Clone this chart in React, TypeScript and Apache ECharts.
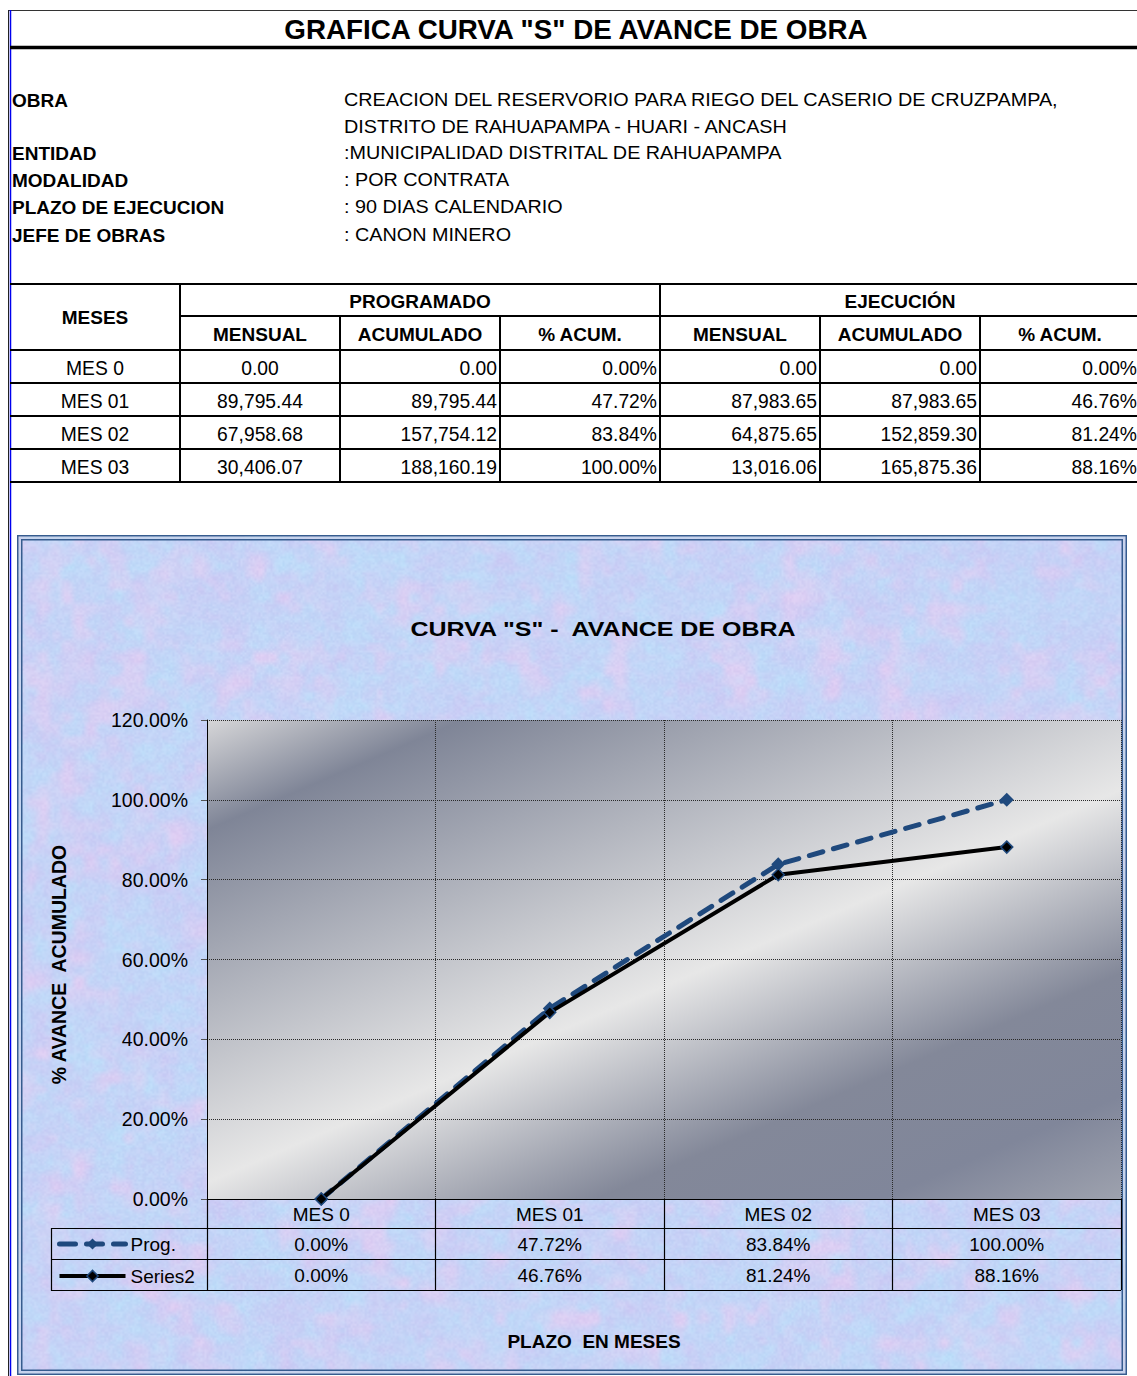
import React, { useEffect, useRef } from 'react';
import * as echarts from 'echarts';

// ---------- data ----------
const months = ['MES 0', 'MES 01', 'MES 02', 'MES 03'];
const progMensual = [0, 89795.44, 67958.68, 30406.07];
const progAcumulado = [0, 89795.44, 157754.12, 188160.19];
const progPct = [0, 47.72, 83.84, 100];
const ejecMensual = [0, 87983.65, 64875.65, 13016.06];
const ejecAcumulado = [0, 87983.65, 152859.3, 165875.36];
const ejecPct = [0, 46.76, 81.24, 88.16];
const seriesNames = ['Prog.', 'Series2'];
const yMin = 0;
const yMax = 120;
const yStep = 20;

const infoLabels = ['OBRA', '', 'ENTIDAD', 'MODALIDAD', 'PLAZO DE EJECUCION', 'JEFE DE OBRAS'];
const infoValues = [
  'CREACION DEL RESERVORIO PARA RIEGO DEL CASERIO DE CRUZPAMPA,',
  'DISTRITO DE RAHUAPAMPA - HUARI - ANCASH',
  ':MUNICIPALIDAD DISTRITAL DE RAHUAPAMPA',
  ': POR CONTRATA',
  ': 90 DIAS CALENDARIO',
  ': CANON MINERO',
];
const groupHeaders = ['PROGRAMADO', 'EJECUCIÓN'];
const subHeaders = ['MENSUAL', 'ACUMULADO', '% ACUM.', 'MENSUAL', 'ACUMULADO', '% ACUM.'];

const pageTitle = 'GRAFICA CURVA "S" DE AVANCE DE OBRA';
const chartTitle = 'CURVA "S" -  AVANCE DE OBRA';
const yName = '% AVANCE  ACUMULADO';
const xName = 'PLAZO  EN MESES';

// ---------- helpers ----------
const FONT = '"Liberation Sans", Arial, Helvetica, sans-serif';
const fmtNum = (v: number) => v.toLocaleString('en-US', { minimumFractionDigits: 2, maximumFractionDigits: 2 });
const fmtPct = (v: number) => v.toFixed(2) + '%';

const T = (x: number, y: number, text: string, size: number, bold: boolean, align = 'left', extra: any = {}) => ({
  type: 'text',
  x,
  y,
  z: 20,
  silent: true,
  ...extra,
  style: {
    text,
    fill: '#000',
    fontFamily: FONT,
    fontSize: size,
    fontWeight: bold ? 'bold' : 'normal',
    textAlign: align,
    textVerticalAlign: 'middle',
  },
});
const L = (x1: number, y1: number, x2: number, y2: number, w = 2, c = '#000', z = 20) => ({
  type: 'line',
  z,
  silent: true,
  shape: { x1, y1, x2, y2 },
  style: { stroke: c, lineWidth: w },
});

function makeTexture(w: number, h: number): string {
  const c = document.createElement('canvas');
  c.width = w;
  c.height = h;
  const ctx = c.getContext('2d');
  if (!ctx) return '';
  const img = ctx.createImageData(w, h);
  const hash = (x: number, y: number, s: number) => {
    const v = Math.sin(x * 127.1 + y * 311.7 + s * 74.7) * 43758.5453;
    return v - Math.floor(v);
  };
  const noise = (x: number, y: number, s: number) => {
    const ix = Math.floor(x), iy = Math.floor(y);
    const fx = x - ix, fy = y - iy;
    const ux = fx * fx * (3 - 2 * fx), uy = fy * fy * (3 - 2 * fy);
    const a = hash(ix, iy, s), b = hash(ix + 1, iy, s), cc = hash(ix, iy + 1, s), d = hash(ix + 1, iy + 1, s);
    return a + (b - a) * ux + (cc - a) * uy + (a - b - cc + d) * ux * uy;
  };
  for (let y = 0; y < h; y++) {
    for (let x = 0; x < w; x++) {
      const n1 = 0.45 * noise(x / 12, y / 12, 1) + 0.35 * noise(x / 5, y / 5, 2) + 0.2 * noise(x / 2, y / 2, 3);
      const n2 = 0.55 * noise(x / 15, y / 15, 7) + 0.45 * noise(x / 6, y / 6, 8);
      const gr = (hash(x, y, 11) - 0.5) * 10;
      let r = 186 + (206 - 186) * n1;
      let g = 224 + (200 - 224) * n1;
      let b = 250 + (244 - 250) * n1;
      const p = Math.max(0, Math.min(1, (n2 - 0.5) * 2.6)) * 0.72;
      r += (230 - r) * p;
      g += (204 - g) * p;
      b += (242 - b) * p;
      const i = (y * w + x) * 4;
      img.data[i] = Math.max(0, Math.min(255, r + gr));
      img.data[i + 1] = Math.max(0, Math.min(255, g + gr));
      img.data[i + 2] = Math.max(0, Math.min(255, b + gr * 0.5));
      img.data[i + 3] = 255;
    }
  }
  ctx.putImageData(img, 0, 0);
  return c.toDataURL('image/png');
}

function buildOption() {
  const els: any[] = [];

  // page frame
  els.push(L(8, 10.5, 1137, 10.5, 1, '#333'));
  els.push(L(8.5, 10, 8.5, 1376, 1, '#222'));
  els.push(L(10.5, 10, 10.5, 1376, 1.5, '#0000EE'));
  els.push(L(10, 47.5, 1137, 47.5, 3.5, '#000'));
  els.push(T(576, 29, pageTitle, 27.8, true, 'center'));

  // info block
  const infoY = [100, 127, 153, 180, 207, 235];
  infoLabels.forEach((s, i) => {
    if (s) els.push(T(12, infoY[i], s, 19, true));
  });
  infoValues.forEach((s, i) => els.push(T(344, infoY[i], s, 18.5, false, 'left', { scaleX: 1.07 })));

  // table
  const colX = [10, 180, 340, 500, 660, 820, 980, 1140];
  const top = 284, sub = 316, hb = 350, rowH = 33;
  const rowTops = months.map((_, i) => hb + i * rowH);
  const bottom = hb + months.length * rowH;
  els.push(L(10, top, 1137, top));
  els.push(L(180, sub, 1137, sub));
  els.push(L(10, hb, 1137, hb));
  rowTops.forEach((y) => els.push(L(10, y + rowH, 1137, y + rowH)));
  els.push(L(180, top, 180, bottom));
  els.push(L(660, top, 660, bottom));
  [340, 500, 820, 980].forEach((x) => els.push(L(x, sub, x, bottom)));

  els.push(T(95, (top + hb) / 2, 'MESES', 19, true, 'center'));
  els.push(T(420, (top + sub) / 2 + 1, groupHeaders[0], 19, true, 'center'));
  els.push(T(900, (top + sub) / 2 + 1, groupHeaders[1], 19, true, 'center'));
  subHeaders.forEach((s, i) => els.push(T((colX[i + 1] + colX[i + 2]) / 2, (sub + hb) / 2 + 1, s, 19, true, 'center')));

  months.forEach((m, i) => {
    const cy = rowTops[i] + rowH / 2 + 1.5;
    els.push(T(95, cy, m, 19.3, false, 'center'));
    els.push(T(260, cy, fmtNum(progMensual[i]), 19.3, false, 'center'));
    const right = [fmtNum(progAcumulado[i]), fmtPct(progPct[i]), fmtNum(ejecMensual[i]), fmtNum(ejecAcumulado[i]), fmtPct(ejecPct[i])];
    right.forEach((s, j) => els.push(T(colX[j + 3] - 3, cy, s, 19.3, false, 'right')));
  });

  // chart panel
  const tex = makeTexture(553, 418);
  if (tex) {
    els.push({ type: 'image', z: -30, silent: true, style: { image: tex, x: 18, y: 536, width: 1108, height: 838 } });
  } else {
    els.push({ type: 'rect', z: -30, silent: true, shape: { x: 18, y: 536, width: 1108, height: 838 }, style: { fill: '#C4D2F4' } });
  }
  els.push({ type: 'rect', z: -20, silent: true, shape: { x: 17.75, y: 535.75, width: 1108.5, height: 838.5 }, style: { fill: 'none', stroke: '#365C8E', lineWidth: 1.5 } });
  els.push({ type: 'rect', z: -20, silent: true, shape: { x: 19.75, y: 537.75, width: 1104.5, height: 834.5 }, style: { fill: 'none', stroke: '#C6D4EA', lineWidth: 1.5 } });
  els.push({ type: 'rect', z: -20, silent: true, shape: { x: 21.75, y: 539.75, width: 1100.5, height: 830.5 }, style: { fill: 'none', stroke: '#365C8E', lineWidth: 1.5 } });

  els.push(T(603, 629, chartTitle, 21, true, 'center', { scaleX: 1.19 }));
  els.push(T(594, 1341, xName, 19, true, 'center'));

  // data table under the plot
  [1228.5, 1259.5, 1290.5].forEach((y) => els.push(L(51, y, 1121, y, 1.2, '#000')));
  els.push(L(51.5, 1228, 51.5, 1291, 1.2, '#000'));

  const plotGrad = new echarts.graphic.LinearGradient(
    207, 720, 523.8, 1457,
    [
      { offset: 0, color: '#D6D6D8' },
      { offset: 0.126, color: '#7F8597' },
      { offset: 0.53, color: '#E7E7E7' },
      { offset: 0.74, color: '#838899' },
      { offset: 0.88, color: '#80869A' },
      { offset: 1, color: '#9EA2AE' },
    ],
    true
  );

  const blue = '#1F497D';

  return {
    animation: false,
    textStyle: { fontFamily: FONT },
    graphic: { elements: els },
    grid: { left: 207, top: 720, width: 914, height: 479, show: true, borderWidth: 0, backgroundColor: plotGrad },
    legend: {
      orient: 'vertical',
      left: 57,
      top: 1234.5,
      padding: 0,
      itemWidth: 66,
      itemHeight: 14,
      itemGap: 13,
      selectedMode: false,
      textStyle: { fontSize: 19, color: '#000', fontFamily: FONT, lineHeight: 14 },
      data: [
        { name: seriesNames[0], lineStyle: { width: 5, type: [16, 11], cap: 'round', color: blue }, itemStyle: { color: blue } },
        { name: seriesNames[1], lineStyle: { width: 4, color: '#000' }, itemStyle: { color: '#000', borderColor: blue, borderWidth: 1.5 } },
      ],
    },
    xAxis: [
      {
        type: 'category',
        data: months,
        boundaryGap: true,
        axisLine: { show: true, lineStyle: { color: '#000', width: 1 } },
        axisTick: { show: true, length: 91, interval: 0, lineStyle: { color: '#000', width: 1.2 } },
        axisLabel: { fontSize: 19, color: '#000', margin: 6, interval: 0, fontFamily: FONT },
        splitLine: { show: true, interval: 0, lineStyle: { type: 'dotted', color: '#2A2A2A', width: 1 } },
      },
      {
        type: 'category',
        data: progPct.map(fmtPct),
        position: 'bottom',
        offset: 30,
        boundaryGap: true,
        axisLine: { show: false },
        axisTick: { show: false },
        axisLabel: { fontSize: 19, color: '#000', margin: 6, interval: 0, fontFamily: FONT },
        splitLine: { show: false },
      },
      {
        type: 'category',
        data: ejecPct.map(fmtPct),
        position: 'bottom',
        offset: 61,
        boundaryGap: true,
        axisLine: { show: false },
        axisTick: { show: false },
        axisLabel: { fontSize: 19, color: '#000', margin: 6, interval: 0, fontFamily: FONT },
        splitLine: { show: false },
      },
    ],
    yAxis: {
      type: 'value',
      min: yMin,
      max: yMax,
      interval: yStep,
      name: yName,
      nameLocation: 'middle',
      nameGap: 138,
      nameRotate: 90,
      nameTextStyle: { fontSize: 19.5, fontWeight: 'bold', color: '#000', fontFamily: FONT, padding: [0, 10, 0, 0] },
      axisLine: { show: true, lineStyle: { color: '#000', width: 1 } },
      axisTick: { show: true, length: 6, lineStyle: { color: '#555' } },
      axisLabel: { fontSize: 19.5, color: '#000', margin: 19, formatter: (v: number) => v.toFixed(2) + '%', fontFamily: FONT },
      splitLine: { show: true, lineStyle: { type: 'dotted', color: '#2A2A2A', width: 1 } },
    },
    series: [
      {
        name: seriesNames[0],
        type: 'line',
        data: progPct,
        symbol: 'diamond',
        symbolSize: 14,
        z: 3,
        lineStyle: { color: blue, width: 5, type: [14, 11], cap: 'round' },
        itemStyle: { color: blue },
      },
      {
        name: seriesNames[1],
        type: 'line',
        data: ejecPct,
        symbol: 'diamond',
        symbolSize: 12,
        z: 4,
        lineStyle: { color: '#000', width: 4 },
        itemStyle: { color: '#000', borderColor: blue, borderWidth: 1.5 },
      },
    ],
  };
}

export default function App() {
  const ref = useRef<HTMLDivElement>(null);
  useEffect(() => {
    if (!ref.current) return;
    const chart = echarts.init(ref.current, null, { renderer: 'svg' });
    chart.setOption(buildOption() as any);
    return () => chart.dispose();
  }, []);
  return (
    <div
      ref={ref}
      style={{ position: 'absolute', left: 0, top: 0, width: 1137, height: 1376, background: '#fff' }}
    />
  );
}
